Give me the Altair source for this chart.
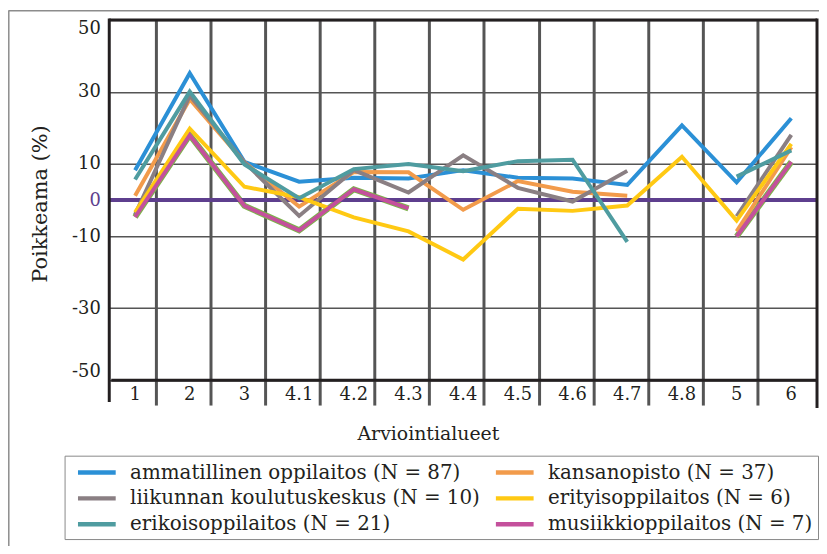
import altair as alt
import pandas as pd

# ---------------- data ----------------
categories = ["1", "2", "3", "4.1", "4.2", "4.3", "4.4", "4.5", "4.6", "4.7", "4.8", "5", "6"]

series_names = [
    "ammatillinen oppilaitos (N = 87)",
    "kansanopisto (N = 37)",
    "liikunnan koulutuskeskus (N = 10)",
    "erityisoppilaitos (N = 6)",
    "erikoisoppilaitos (N = 21)",
    "musiikkioppilaitos (N = 7)",
]
series_colors = ["#2b90d6", "#f29b4b", "#8a7f83", "#ffc913", "#4f9ca0", "#c4509c"]

ammatillinen = [8.3, 35.2, 10.6, 5.1, 6.2, 6.0, 8.3, 6.2, 6.0, 4.2, 20.7, 4.9, 22.7]
kansanopisto = [1.2, 28.0, 10.5, -1.8, 7.8, 7.7, -2.7, 5.3, 2.3, 1.2, None, -8.7, 14.7]
liikunnan = [-4.0, 29.0, 10.5, -4.4, 8.3, 2.1, 12.4, 3.4, -0.4, 8.1, None, -4.5, 18.1]
erityis = [-3.4, 19.8, 3.7, 0.8, -4.8, -8.7, -16.5, -2.4, -3.0, -1.5, 12.0, -5.7, 15.6]
erikois = [5.7, 30.1, 9.9, 0.5, 8.6, 10.0, 8.0, 10.8, 11.2, -11.6, None, 6.5, 13.8]
musiikki = [-4.7, 18.0, -1.6, -8.4, 3.0, -2.3, None, None, None, None, None, -10.1, 10.6]

series_values = [ammatillinen, kansanopisto, liikunnan, erityis, erikois, musiikki]

y_ticks = [50, 30, 10, 0, -10, -30, -50]
x_domain = [-0.472, 12.47]
grid_offset = 0.38  # vertical rules sit a little right of each category

# ---------------- tables ----------------
rows = []
for name, vals in zip(series_names, series_values):
    seg = 0
    for i, v in enumerate(vals):
        if v is None:
            seg += 1
            continue
        rows.append({"series": name, "idx": i, "value": v, "seg": f"{name}-{seg}"})
df = pd.DataFrame(rows)

cat_df = pd.DataFrame({"idx": list(range(len(categories))), "label": categories,
                       "value": [-50] * len(categories)})

W, H = 713, 363
FONT = "DejaVu Serif"
INK = "#231f20"
GRID = "#555555"
PURPLE = "#5e3f8e"

x_scale = alt.Scale(domain=x_domain, nice=False, zero=False)
y_scale = alt.Scale(domain=[-50, 50], nice=False, zero=False)
color_scale = alt.Scale(domain=series_names, range=series_colors)

x_axis = alt.Axis(
    values=[i + grid_offset for i in range(len(categories) - 1)],
    labels=False, domain=False,
    ticks=True, tickSize=25, tickWidth=3, tickColor=GRID,
    grid=True, gridColor=GRID, gridWidth=3,
    title="Arviointialueet", titleFont=FONT, titleFontSize=19,
    titleFontWeight="normal", titleColor=INK,
    titleX=321, titleY=54, titleBaseline="middle", titleAlign="center",
)
y_axis = alt.Axis(
    values=y_ticks, domain=False, ticks=False, tickSize=0,
    grid=True, gridColor=GRID, gridWidth=1.5,
    labelExpr="'' + datum.value",
    labelFont=FONT, labelFontSize=18, labelPadding=9, labelFlush=True,
    labelColor=alt.ExprRef(expr=f"datum.value == 0 ? '{PURPLE}' : '{INK}'"),
    title="Poikkeama (%)", titleFont=FONT, titleFontSize=21,
    titleFontWeight="normal", titleColor=INK,
    titleX=-69, titleY=185, titleBaseline="middle", titleAlign="center",
)

X = alt.X("idx:Q", scale=x_scale, axis=x_axis)
Y = alt.Y("value:Q", scale=y_scale, axis=y_axis)

base = alt.Chart(df)

# green halo beneath the music line
halo = base.transform_filter(
    alt.datum.series == series_names[-1]
).mark_line(strokeWidth=6, color="#7ab648").encode(x=X, y=Y, detail="seg:N")

zero_df = pd.DataFrame({"value": [0]})
zero_line = alt.Chart(zero_df).mark_rule(color=PURPLE, strokeWidth=4).encode(y=Y)

lines = base.mark_line(strokeWidth=4).encode(
    x=X, y=Y,
    color=alt.Color(
        "series:N", scale=color_scale, sort=series_names,
        legend=alt.Legend(
            title=None, orient="none", legendX=-45, legendY=439,
            direction="horizontal", columns=2,
            symbolType="M-2,0L2,0", symbolSize=361,
            symbolStrokeWidth=4.5, labelFont=FONT, labelFontSize=20,
            labelColor=INK, labelOffset=21.5, symbolOffset=15.5, labelLimit=500,
            padding=5, rowPadding=4, columnPadding=6,
            strokeColor="#888888", fillColor="white",
        ),
    ),
    detail="seg:N",
)

cat_labels = alt.Chart(cat_df).mark_text(
    font=FONT, fontSize=18, color=INK, baseline="middle", align="center", dy=15
).encode(x=X, y=Y, text="label:N")

frame_df = pd.DataFrame({"k": [0]})
frame_top = alt.Chart(frame_df).mark_rule(color=INK, strokeWidth=3).encode(
    x=alt.value(0), x2=alt.value(W), y=alt.value(0))
frame_bottom = alt.Chart(frame_df).mark_rule(color=INK, strokeWidth=3).encode(
    x=alt.value(2), x2=alt.value(W), y=alt.value(H))
frame_left = alt.Chart(frame_df).mark_rule(color=INK, strokeWidth=3).encode(
    x=alt.value(0), y=alt.value(-1.5), y2=alt.value(H + 22))
frame_right = alt.Chart(frame_df).mark_rule(color=INK, strokeWidth=3).encode(
    x=alt.value(W), y=alt.value(-1.5), y2=alt.value(H + 28))

outer_top = alt.Chart(frame_df).mark_rule(color="#8c8c8c", strokeWidth=1.5).encode(
    x=alt.value(-101.5), x2=alt.value(W + 4), y=alt.value(-9.2))
outer_left = alt.Chart(frame_df).mark_rule(color="#8c8c8c", strokeWidth=1.5).encode(
    x=alt.value(-101.2), y=alt.value(-9.5), y2=alt.value(H + 200))

chart = alt.layer(
    halo, zero_line, lines, cat_labels,
    frame_top, frame_bottom, frame_left, frame_right,
    outer_top, outer_left,
).properties(
    width=W, height=H,
    autosize=alt.AutoSizeParams(type="none"),
    padding={"left": 102, "top": 10, "right": 2, "bottom": 165},
).configure_view(stroke=None).configure(background="white")

chart.save("out.html", embed_options={"renderer": "svg", "actions": False})
